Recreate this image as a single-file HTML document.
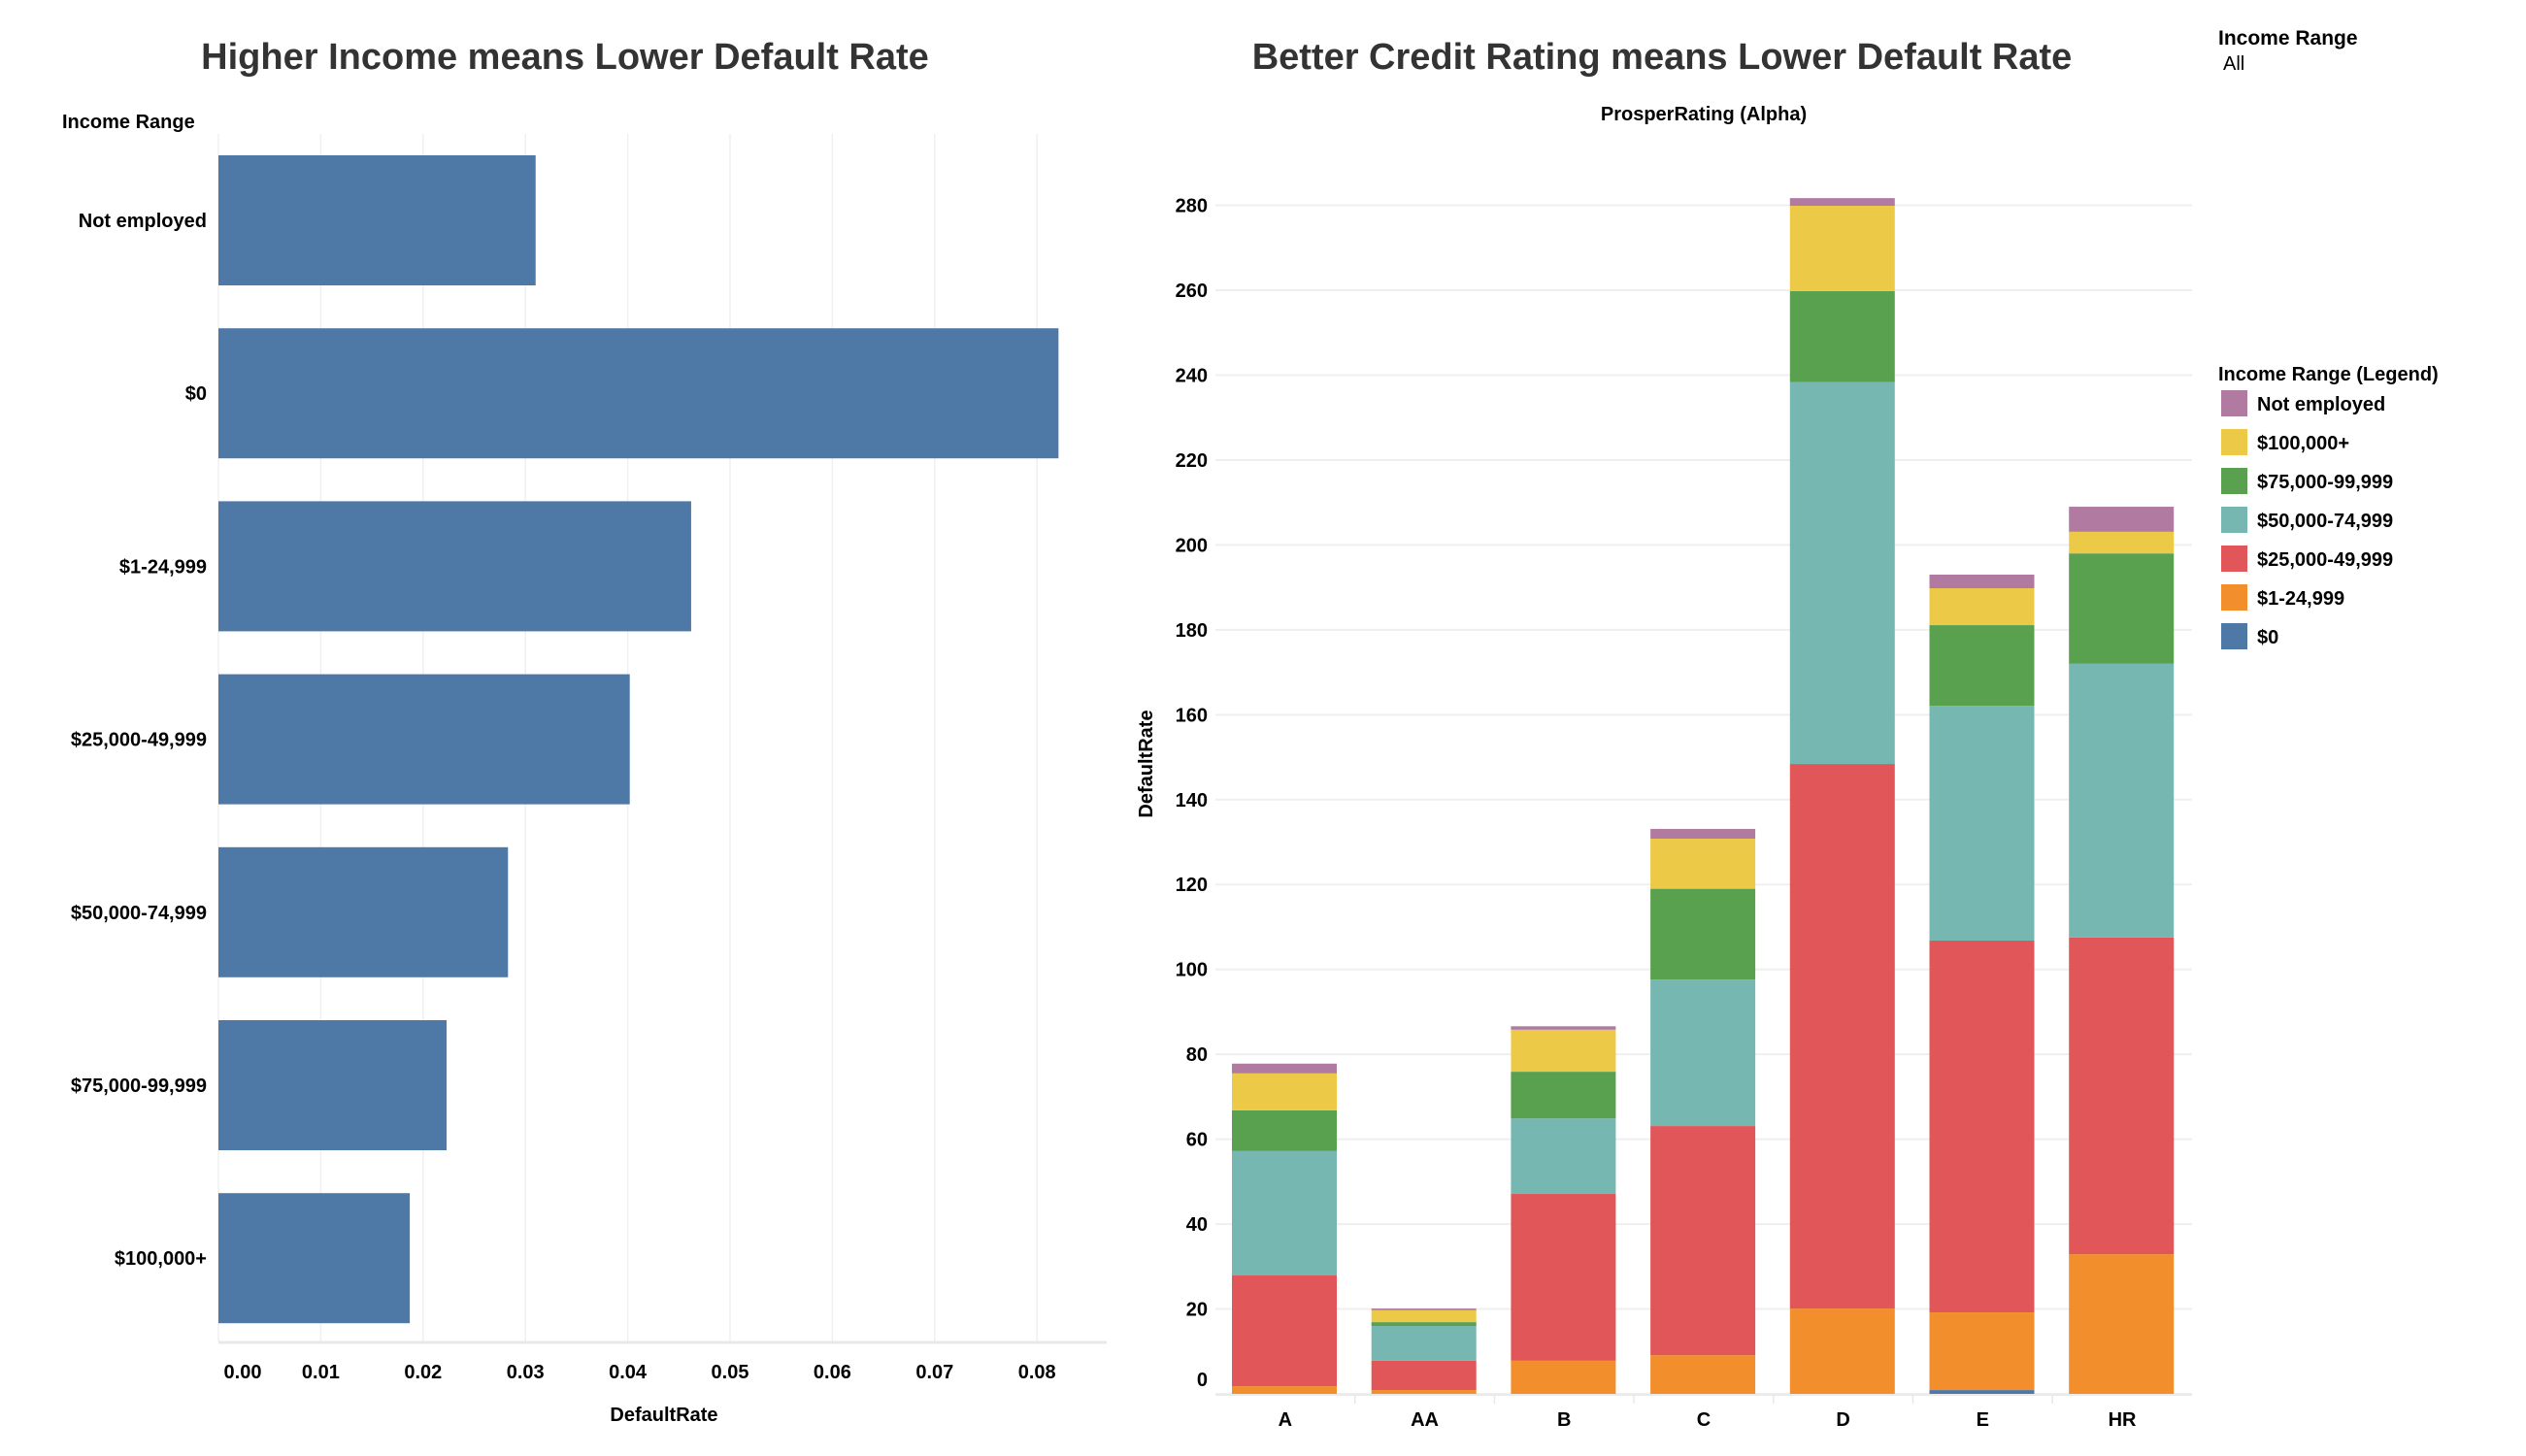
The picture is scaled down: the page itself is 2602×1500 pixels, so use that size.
<!DOCTYPE html>
<html><head><meta charset="utf-8"><style>
html,body{margin:0;padding:0;background:#fff;}
svg{display:block;font-family:"Liberation Sans",Arial,sans-serif;}
</style></head><body>
<svg id="c" width="2602" height="1500" viewBox="0 0 2602 1500" xmlns="http://www.w3.org/2000/svg">
<text x="582" y="71" text-anchor="middle" font-size="38" font-weight="bold" fill="#333">Higher Income means Lower Default Rate</text>
<text x="1712" y="71" text-anchor="middle" font-size="38" font-weight="bold" fill="#333">Better Credit Rating means Lower Default Rate</text>
<text x="64" y="132" font-size="20" font-weight="bold" fill="#000">Income Range</text>
<text x="1755" y="124" text-anchor="middle" font-size="20" font-weight="bold" fill="#000">ProsperRating (Alpha)</text>
<text x="2285" y="46" font-size="21" font-weight="bold" fill="#000">Income Range</text>
<text x="2290" y="72" font-size="20" fill="#000">All</text>
<text x="684" y="1464" text-anchor="middle" font-size="20" font-weight="bold" fill="#000">DefaultRate</text>
<text transform="translate(1187,787) rotate(-90)" text-anchor="middle" font-size="20" font-weight="bold" fill="#000">DefaultRate</text>
<g id="left"></g><g id="right"></g><g id="legend"></g>
</svg>
<script>
const incomeCats = ["Not employed","$0","$1-24,999","$25,000-49,999","$50,000-74,999","$75,000-99,999","$100,000+"];
const incomeRates = [0.0310,0.0821,0.0462,0.0402,0.0283,0.0223,0.0187];
const rateTicks = [0,0.01,0.02,0.03,0.04,0.05,0.06,0.07,0.08];

const ratings = ["A","AA","B","C","D","E","HR"];
const segNames = ["$0","$1-24,999","$25,000-49,999","$50,000-74,999","$75,000-99,999","$100,000+","Not employed"];
const s0     = [0,0,0,0,0,0.9,0];
const s1     = [1.8,0.9,7.8,9.1,20.1,18.3,32.9];
const s25    = [26.1,6.9,39.3,54.0,128.3,87.6,74.6];
const s50    = [29.3,8.2,17.8,34.5,90.0,55.3,64.5];
const s75    = [9.6,0.9,11.0,21.4,21.4,19.0,26.0];
const s100   = [8.7,2.8,9.9,11.8,20.1,8.7,5.1];
const sNE    = [2.3,0.4,0.8,2.3,1.8,3.2,5.9];
const yTicks = [0,20,40,60,80,100,120,140,160,180,200,220,240,260,280];
const colors = ["#4e79a7","#f28e2b","#e15759","#76b7b2","#59a14f","#edc948","#b07aa1"];
const series = [s0,s1,s25,s50,s75,s100,sNE];

const NS="http://www.w3.org/2000/svg";
function mk(tag,attrs,parent,text){const e=document.createElementNS(NS,tag);for(const k in attrs)e.setAttribute(k,attrs[k]);if(text!==undefined)e.textContent=text;parent.appendChild(e);return e;}

// left chart
const L=document.getElementById('left');
const xL=v=>225+v*10540;
const yBand=i=>160+i*178.2;
rateTicks.forEach((t,i)=>{
  const g=mk('line',{x1:xL(t),x2:xL(t),y1:138,y2:1382,stroke:'#f0f0f0','stroke-width':1.5},L);
  
  
  const tx=mk('text',{x:i===0?xL(t)+25:xL(t),y:1420,'text-anchor':'middle','font-size':20,'font-weight':'bold',fill:'#000'},L,t.toFixed(2));
  
  
});
incomeCats.forEach((c,i)=>{
  const r=mk('rect',{x:xL(0),y:yBand(i),width:xL(incomeRates[i])-xL(0),height:134,fill:'#4e79a7'},L);
  
  
  const tx=mk('text',{x:213,y:yBand(i)+74,'text-anchor':'end','font-size':20,'font-weight':'bold',fill:'#000'},L,c);
  
  
});
const ax=mk('line',{x1:225,x2:1140,y1:1383,y2:1383,stroke:'#e8e8e8','stroke-width':3},L);



// right chart
const R=document.getElementById('right');
const yR=v=>1436-v*4.373;
const band=143.7, x0=1252;
yTicks.forEach(t=>{
  const g=mk('line',{x1:x0,x2:2258,y1:yR(t),y2:yR(t),stroke:'#efefef','stroke-width':2},R);
  
  
  const tx=mk('text',{x:1244,y:t===0?yR(t)-8:yR(t)+7,'text-anchor':'end','font-size':20,'font-weight':'bold',fill:'#000'},R,String(t));
  
  
});
ratings.forEach((r,i)=>{
  let cum=0;
  series.forEach((s,k)=>{
    const v=s[i]; if(v<=0) return;
    const rc=mk('rect',{x:x0+i*band+17,y:yR(cum+v),width:108,height:yR(cum)-yR(cum+v),fill:colors[k]},R);
    
    
    cum+=v;
  });
  const tx=mk('text',{x:x0+i*band+band/2,y:1469,'text-anchor':'middle','font-size':20,'font-weight':'bold',fill:'#000'},R,r);
  
  
  if(i>0){const d=mk('line',{x1:x0+i*band,x2:x0+i*band,y1:1438,y2:1446,stroke:'#e8e8e8','stroke-width':1.5},R);
  
  }
});
const bx=mk('line',{x1:x0,x2:2258,y1:1437,y2:1437,stroke:'#eaeaea','stroke-width':2},R);



// legend
const G=document.getElementById('legend');
const lt=mk('text',{x:2285,y:392,'font-size':20,'font-weight':'bold',fill:'#000'},G,'Income Range (Legend)');


for(let j=0;j<7;j++){
  const k=6-j;
  const sw=mk('rect',{x:2288,y:402+j*40,width:27,height:27,fill:colors[k]},G);
  
  
  const tx=mk('text',{x:2325,y:423+j*40,'font-size':20,'font-weight':'bold',fill:'#000'},G,segNames[k]);
  
  
}
</script>
</body></html>
